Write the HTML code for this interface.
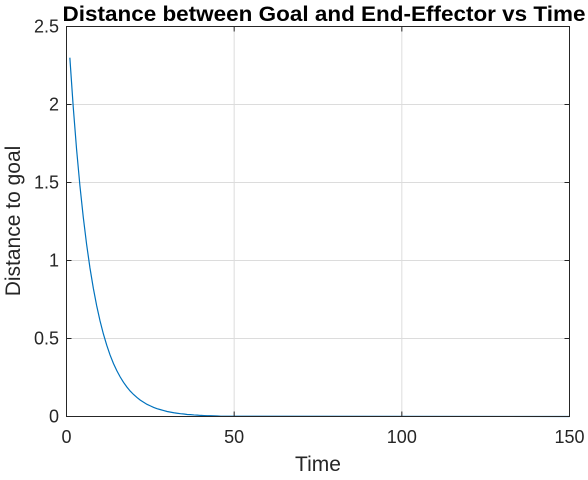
<!DOCTYPE html>
<html><head><meta charset="utf-8"><style>
body{margin:0;background:#fff;}
svg text{font-family:"Liberation Sans",sans-serif;fill:#262626;}
</style></head><body>
<svg id="chart" width="588" height="475" xmlns="http://www.w3.org/2000/svg">
<rect x="0" y="0" width="588" height="475" fill="#fff"/>
<g id="grid"></g>
<g id="line"></g>
<rect x="66.5" y="26.5" width="503" height="390" fill="none" stroke="#262626" stroke-width="1"/>
<g id="ticks"></g>
<text x="324" y="21" text-anchor="middle" font-size="21" font-weight="bold" textLength="523" lengthAdjust="spacingAndGlyphs" style="fill:#000">Distance between Goal and End-Effector vs Time</text>
<text x="318" y="471" text-anchor="middle" font-size="21">Time</text>
<text transform="translate(20,221) rotate(-90)" text-anchor="middle" font-size="21">Distance to goal</text>
</svg>
<script>
const timeVals=[1,2,3,4,5,6,7,8,9,10,11,12,13,14,15,16,17,18,19,20,21,22,23,24,25,26,27,28,29,30,31,32,33,34,35,36,37,38,39,40,41,42,43,44,45,46,150];
const distVals=[2.30,1.986,1.714,1.480,1.278,1.103,0.952,0.822,0.710,0.613,0.529,0.457,0.394,0.340,0.294,0.254,0.219,0.189,0.163,0.141,0.122,0.105,0.091,0.078,0.068,0.058,0.050,0.044,0.038,0.032,0.028,0.024,0.021,0.018,0.016,0.013,0.012,0.010,0.009,0.007,0.006,0.005,0.005,0.004,0.003,0.002,0.0];
const xTicks=[0,50,100,150];
const xTickLabels=["0","50","100","150"];
const yTicks=[0,0.5,1,1.5,2,2.5];
const yTickLabels=["0","0.5","1","1.5","2","2.5"];
const NS="http://www.w3.org/2000/svg";
const X=v=>66.5+v/150*503;
const Y=v=>416.5-v/2.5*390;
const grid=document.getElementById('grid'),ticks=document.getElementById('ticks'),line=document.getElementById('line');
function mk(t,a,p){const e=document.createElementNS(NS,t);for(const k in a)e.setAttribute(k,a[k]);p.appendChild(e);return e;}
xTicks.forEach((v,i)=>{
 const g=mk('line',{x1:X(v),x2:X(v),y1:26.5,y2:416.5,stroke:'#dcdcdc','stroke-width':1},grid);
 
 
 mk('line',{x1:X(v),x2:X(v),y1:416.5,y2:411.5,stroke:'#262626'},ticks);
 mk('line',{x1:X(v),x2:X(v),y1:26.5,y2:31.5,stroke:'#262626'},ticks);
 const t=mk('text',{x:X(v),y:443,'text-anchor':'middle','font-size':18},ticks);t.textContent=xTickLabels[i];
 
 
});
yTicks.forEach((v,i)=>{
 const g=mk('line',{x1:66.5,x2:569.5,y1:Y(v),y2:Y(v),stroke:'#dcdcdc','stroke-width':1},grid);
 
 
 mk('line',{x1:66.5,x2:71.5,y1:Y(v),y2:Y(v),stroke:'#262626'},ticks);
 mk('line',{x1:569.5,x2:564.5,y1:Y(v),y2:Y(v),stroke:'#262626'},ticks);
 const t=mk('text',{x:59,y:Y(v)+6,'text-anchor':'end','font-size':18},ticks);t.textContent=yTickLabels[i];
 
 
});
const d=timeVals.map((t,i)=>(i?'L':'M')+X(t).toFixed(2)+','+Y(distVals[i]).toFixed(2)).join('');
const p=mk('path',{d:d,fill:'none',stroke:'#0072bd','stroke-width':1.2},line);


</script>
</body></html>
